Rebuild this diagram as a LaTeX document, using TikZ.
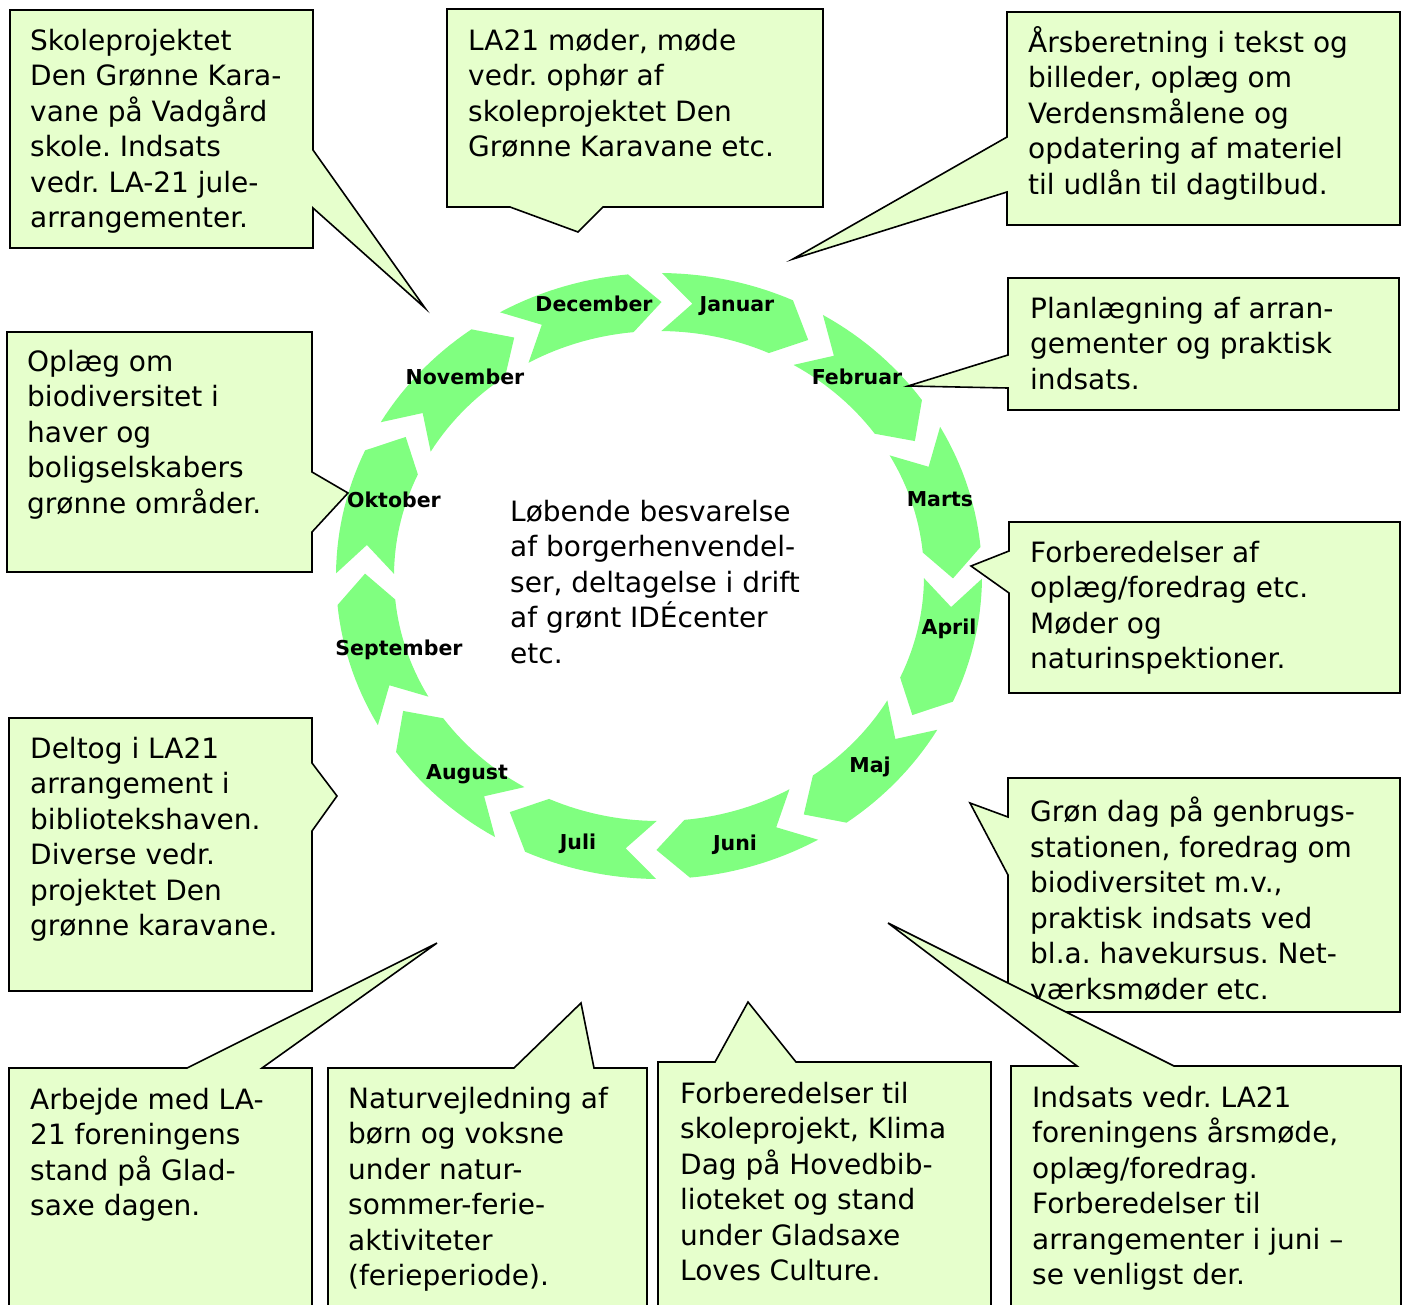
\documentclass[tikz,border=0pt]{standalone}
\usepackage{fontspec}
\setmainfont{DejaVu Sans}
\frenchspacing
\definecolor{ringgreen}{RGB}{128,255,128}
\definecolor{notefill}{RGB}{230,255,204}
\newcommand{\notefont}{\fontsize{28}{35.5}\selectfont}
\newcommand{\monthfont}{\fontsize{20.5}{24}\selectfont\bfseries}

\begin{document}
\begin{tikzpicture}[x=1pt, y=-1pt,
    note/.style={fill=notefill, draw=black, line width=1.6pt, line join=miter},
    notetext/.style={anchor=north west, inner sep=0pt, align=left, font=\notefont},
    month/.style={anchor=base, inner sep=0pt, font=\monthfont},
    chevron/.style={fill=ringgreen}
]
\useasboundingbox (0,0) rectangle (1407,1304);
\clip (0,0) rectangle (1407,1304);
\def\ringcx{659}
\def\ringcy{576}

% ring of month chevrons
\foreach \k in {0,...,11} {
  \pgfmathsetmacro\ta{89.5-30*\k}
  \pgfmathsetmacro\tb{\ta-24}
  \fill[chevron] plot[domain=\ta:\tb, samples=16] ({\ringcx+323*cos(\x)}, {\ringcy-303*sin(\x)})
    -- ({\ringcx+294*cos(\tb-6)}, {\ringcy-274*sin(\tb-6)})
    -- plot[domain=\tb:\ta, samples=16] ({\ringcx+265*cos(\x)}, {\ringcy-245*sin(\x)})
    -- ({\ringcx+294*cos(\ta-6)}, {\ringcy-274*sin(\ta-6)}) -- cycle;
}

% callouts
\draw[note] (10,10) -- (313,10) -- (313,150) -- (425,308) -- (313,208) -- (313,248) -- (10,248) -- cycle;
\draw[note] (447,9) -- (823,9) -- (823,207) -- (603,207) -- (578,232) -- (510,207) -- (447,207) -- cycle;
\draw[note] (1007,12) -- (1400,12) -- (1400,225) -- (1007,225) -- (1007,192) -- (793,259) -- (1007,137) -- cycle;
\draw[note] (1008,278) -- (1399,278) -- (1399,410) -- (1008,410) -- (1008,388) -- (908,386) -- (1008,355) -- cycle;
\draw[note] (1009,522) -- (1400,522) -- (1400,693) -- (1009,693) -- (1009,593) -- (971,566) -- (1009,551) -- cycle;
\draw[note] (1008,778) -- (1400,778) -- (1400,1012) -- (1008,1012) -- (1008,875) -- (970,803) -- (1008,817) -- cycle;
\draw[note] (1011,1066) -- (1077,1066) -- (888,923) -- (1174,1066) -- (1401,1066) -- (1401,1320) -- (1011,1320) -- cycle;
\draw[note] (658,1062) -- (715,1062) -- (748,1002) -- (796,1062) -- (991,1062) -- (991,1320) -- (658,1320) -- cycle;
\draw[note] (328,1068) -- (514,1068) -- (581,1003) -- (594,1068) -- (647,1068) -- (647,1320) -- (328,1320) -- cycle;
\draw[note] (9,1068) -- (187,1068) -- (437,943) -- (262,1068) -- (312,1068) -- (312,1320) -- (9,1320) -- cycle;
\draw[note] (9,718) -- (312,718) -- (312,763) -- (337,796) -- (312,831) -- (312,991) -- (9,991) -- cycle;
\draw[note] (7,332) -- (312,332) -- (312,472) -- (348,493) -- (312,532) -- (312,572) -- (7,572) -- cycle;

% callout texts
\node[notetext] (dec) at (30,29) {Skoleprojektet\\Den Grønne Kara-\\vane på Vadgård\\skole. Indsats\\vedr. LA-21 jule-\\arrangementer.};
\node[notetext] (jan) at (468,29) {LA21 møder, møde\\vedr. ophør af\\skoleprojektet Den\\Grønne Karavane etc.};
\node[notetext] (feb) at (1028,26) {Årsberetning i tekst og\\billeder, oplæg om\\Verdensmålene og\\opdatering af materiel\\til udlån til dagtilbud.};
\node[notetext] (mar) at (1030,297) {Planlægning af arran-\\gementer og praktisk\\indsats.};
\node[notetext] (apr) at (1030,541) {Forberedelser af\\oplæg/foredrag etc.\\Møder og\\naturinspektioner.};
\node[notetext] (maj) at (1030,797) {Grøn dag på genbrugs-\\stationen, foredrag om\\biodiversitet m.v.,\\praktisk indsats ved\\bl.a. havekursus. Net-\\værksmøder etc.};
\node[notetext] (jun) at (1032,1086) {Indsats vedr. LA21\\foreningens årsmøde,\\oplæg/foredrag.\\Forberedelser til\\arrangementer i juni –\\se venligst der.};
\node[notetext] (jul) at (680,1082) {Forberedelser til\\skoleprojekt, Klima\\Dag på Hovedbib-\\lioteket og stand\\under Gladsaxe\\Loves Culture.};
\node[notetext] (aug) at (348,1087) {Naturvejledning af\\børn og voksne\\under natur-\\sommer-ferie-\\aktiviteter\\(ferieperiode).};
\node[notetext] (sep) at (30,1088) {Arbejde med LA-\\21 foreningens\\stand på Glad-\\saxe dagen.};
\node[notetext] (okt) at (30,737) {Deltog i LA21\\arrangement i\\bibliotekshaven.\\Diverse vedr.\\projektet Den\\grønne karavane.};
\node[notetext] (nov) at (27,350) {Oplæg om\\biodiversitet i\\haver og\\boligselskabers\\grønne områder.};
\node[notetext] (center) at (510,500) {Løbende besvarelse\\af borgerhenvendel-\\ser, deltagelse i drift\\af grønt IDÉcenter\\etc.};

% month labels
\foreach \name/\lx/\ly in {Januar/737/304, Februar/857/377, Marts/940/499, April/949/627,
    Maj/870/765, Juni/735/843, Juli/578/842, August/467/772, September/399/648,
    Oktober/394/500, November/465/377, December/594/304}
  \node[month] (\name) at (\lx,{\ly+7.5}) {\name};
\end{tikzpicture}
\end{document}
